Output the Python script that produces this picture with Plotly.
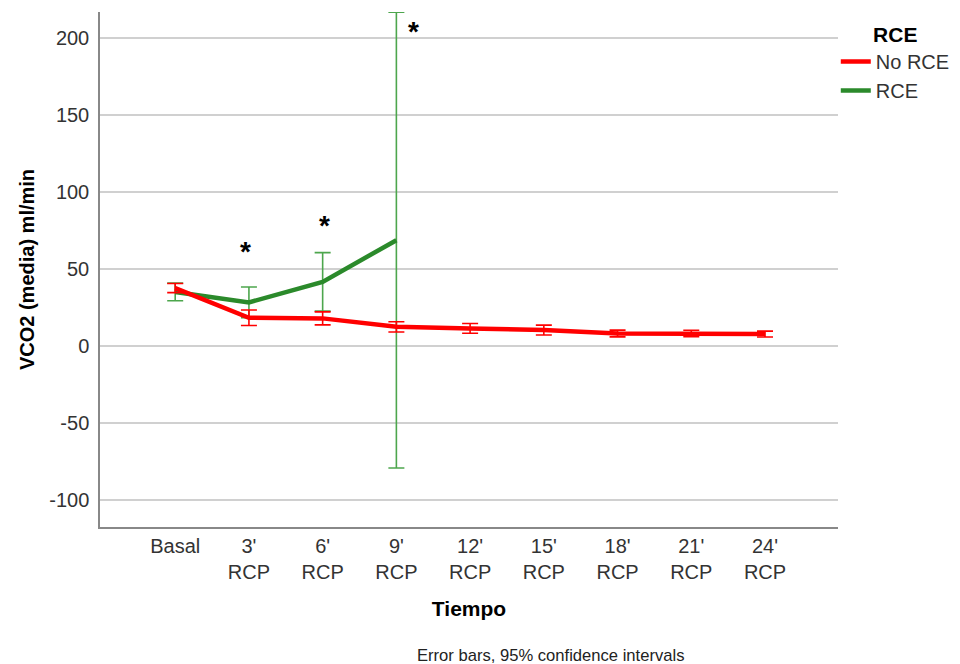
import plotly.graph_objects as go

# Time points
tiempo = ["Basal", "3'<br>RCP", "6'<br>RCP", "9'<br>RCP", "12'<br>RCP",
          "15'<br>RCP", "18'<br>RCP", "21'<br>RCP", "24'<br>RCP"]

# Mean VCO2 (ml/min) and 95% CI half-widths per group
no_rce_mean = [37.7, 18.4, 18.0, 12.5, 11.5, 10.4, 8.2, 8.2, 7.8]
no_rce_ci = [3.0, 5.0, 4.2, 3.3, 3.2, 3.2, 2.2, 2.1, 1.9]

rce_mean = [35.2, 28.4, 41.7, 68.8]
rce_ci = [5.7, 10.0, 19.0, 148.0]

# Y axis ticks (plain hyphen for negatives)
y_ticks = [-100, -50, 0, 50, 100, 150, 200]
y_ticktext = [str(v) for v in y_ticks]

# Significance markers: (x position as category index, y value)
sig_x = [0.95, 2.03, 3.23]
sig_y = [64, 81, 207]

RED = "#ff0000"
GREEN_LINE = "#2b8a2b"
GREEN_ERR = "#4da64d"
FONT = "Liberation Sans, Arial, sans-serif"

fig = go.Figure()

fig.add_trace(go.Scatter(
    x=tiempo[:len(rce_mean)], y=rce_mean, name="RCE", mode="lines",
    line=dict(color=GREEN_LINE, width=4.5),
    error_y=dict(type="data", array=rce_ci, visible=True,
                 color=GREEN_ERR, thickness=1.6, width=8),
    legendrank=2,
))
fig.add_trace(go.Scatter(
    x=tiempo, y=no_rce_mean, name="No RCE", mode="lines",
    line=dict(color=RED, width=4.5),
    error_y=dict(type="data", array=no_rce_ci, visible=True,
                 color=RED, thickness=1.6, width=8),
    legendrank=1,
))

for sx, sy in zip(sig_x, sig_y):
    fig.add_annotation(x=sx, y=sy, xref="x", yref="y", text="<b>*</b>",
                       showarrow=False, font=dict(size=28, color="black", family=FONT),
                       yshift=-4)

# Plot area in pixels: x 100..838, y 12..527
fig.add_annotation(x=(550 - 100) / (838 - 100), y=-(655 - 527) / (527 - 12),
                   xref="paper", yref="paper", xanchor="center", yanchor="middle",
                   text="Error bars, 95% confidence intervals", showarrow=False,
                   font=dict(size=16.6, color="#222222", family=FONT))

fig.update_layout(
    width=960, height=664,
    margin=dict(l=100, r=122, t=12, b=137, autoexpand=False),
    paper_bgcolor="white", plot_bgcolor="white",
    font=dict(family=FONT, size=20, color="#222222"),
    showlegend=True,
    legend=dict(
        x=0.997, xanchor="left", y=0.995, yanchor="top",
        title=dict(text="<b>RCE</b>", side="top center", font=dict(size=21, color="black")),
        font=dict(size=20, color="#333333"),
        itemwidth=30, tracegroupgap=0,
        bgcolor="rgba(0,0,0,0)",
    ),
    xaxis=dict(
        type="category", categoryorder="array", categoryarray=tiempo,
        range=[-1.02, 8.99],
        showgrid=False, showline=True, linecolor="#888888", linewidth=1.5,
        ticks="", tickfont=dict(size=20, color="#333333"),
        title=dict(text="<b>Tiempo</b>", font=dict(size=21, color="black"), standoff=20),
        zeroline=False,
    ),
    yaxis=dict(
        range=[-117.5, 217], tickvals=y_ticks, ticktext=y_ticktext,
        showgrid=True, gridcolor="#d0d0d0", gridwidth=1.5,
        showline=True, linecolor="#888888", linewidth=1.5,
        ticks="", ticklabelstandoff=5, tickfont=dict(size=20, color="#333333"),
        title=dict(text="<b>VCO2 (media) ml/min</b>", font=dict(size=20, color="black"), standoff=9),
        zeroline=False,
    ),
)

fig.write_html("out.html")
